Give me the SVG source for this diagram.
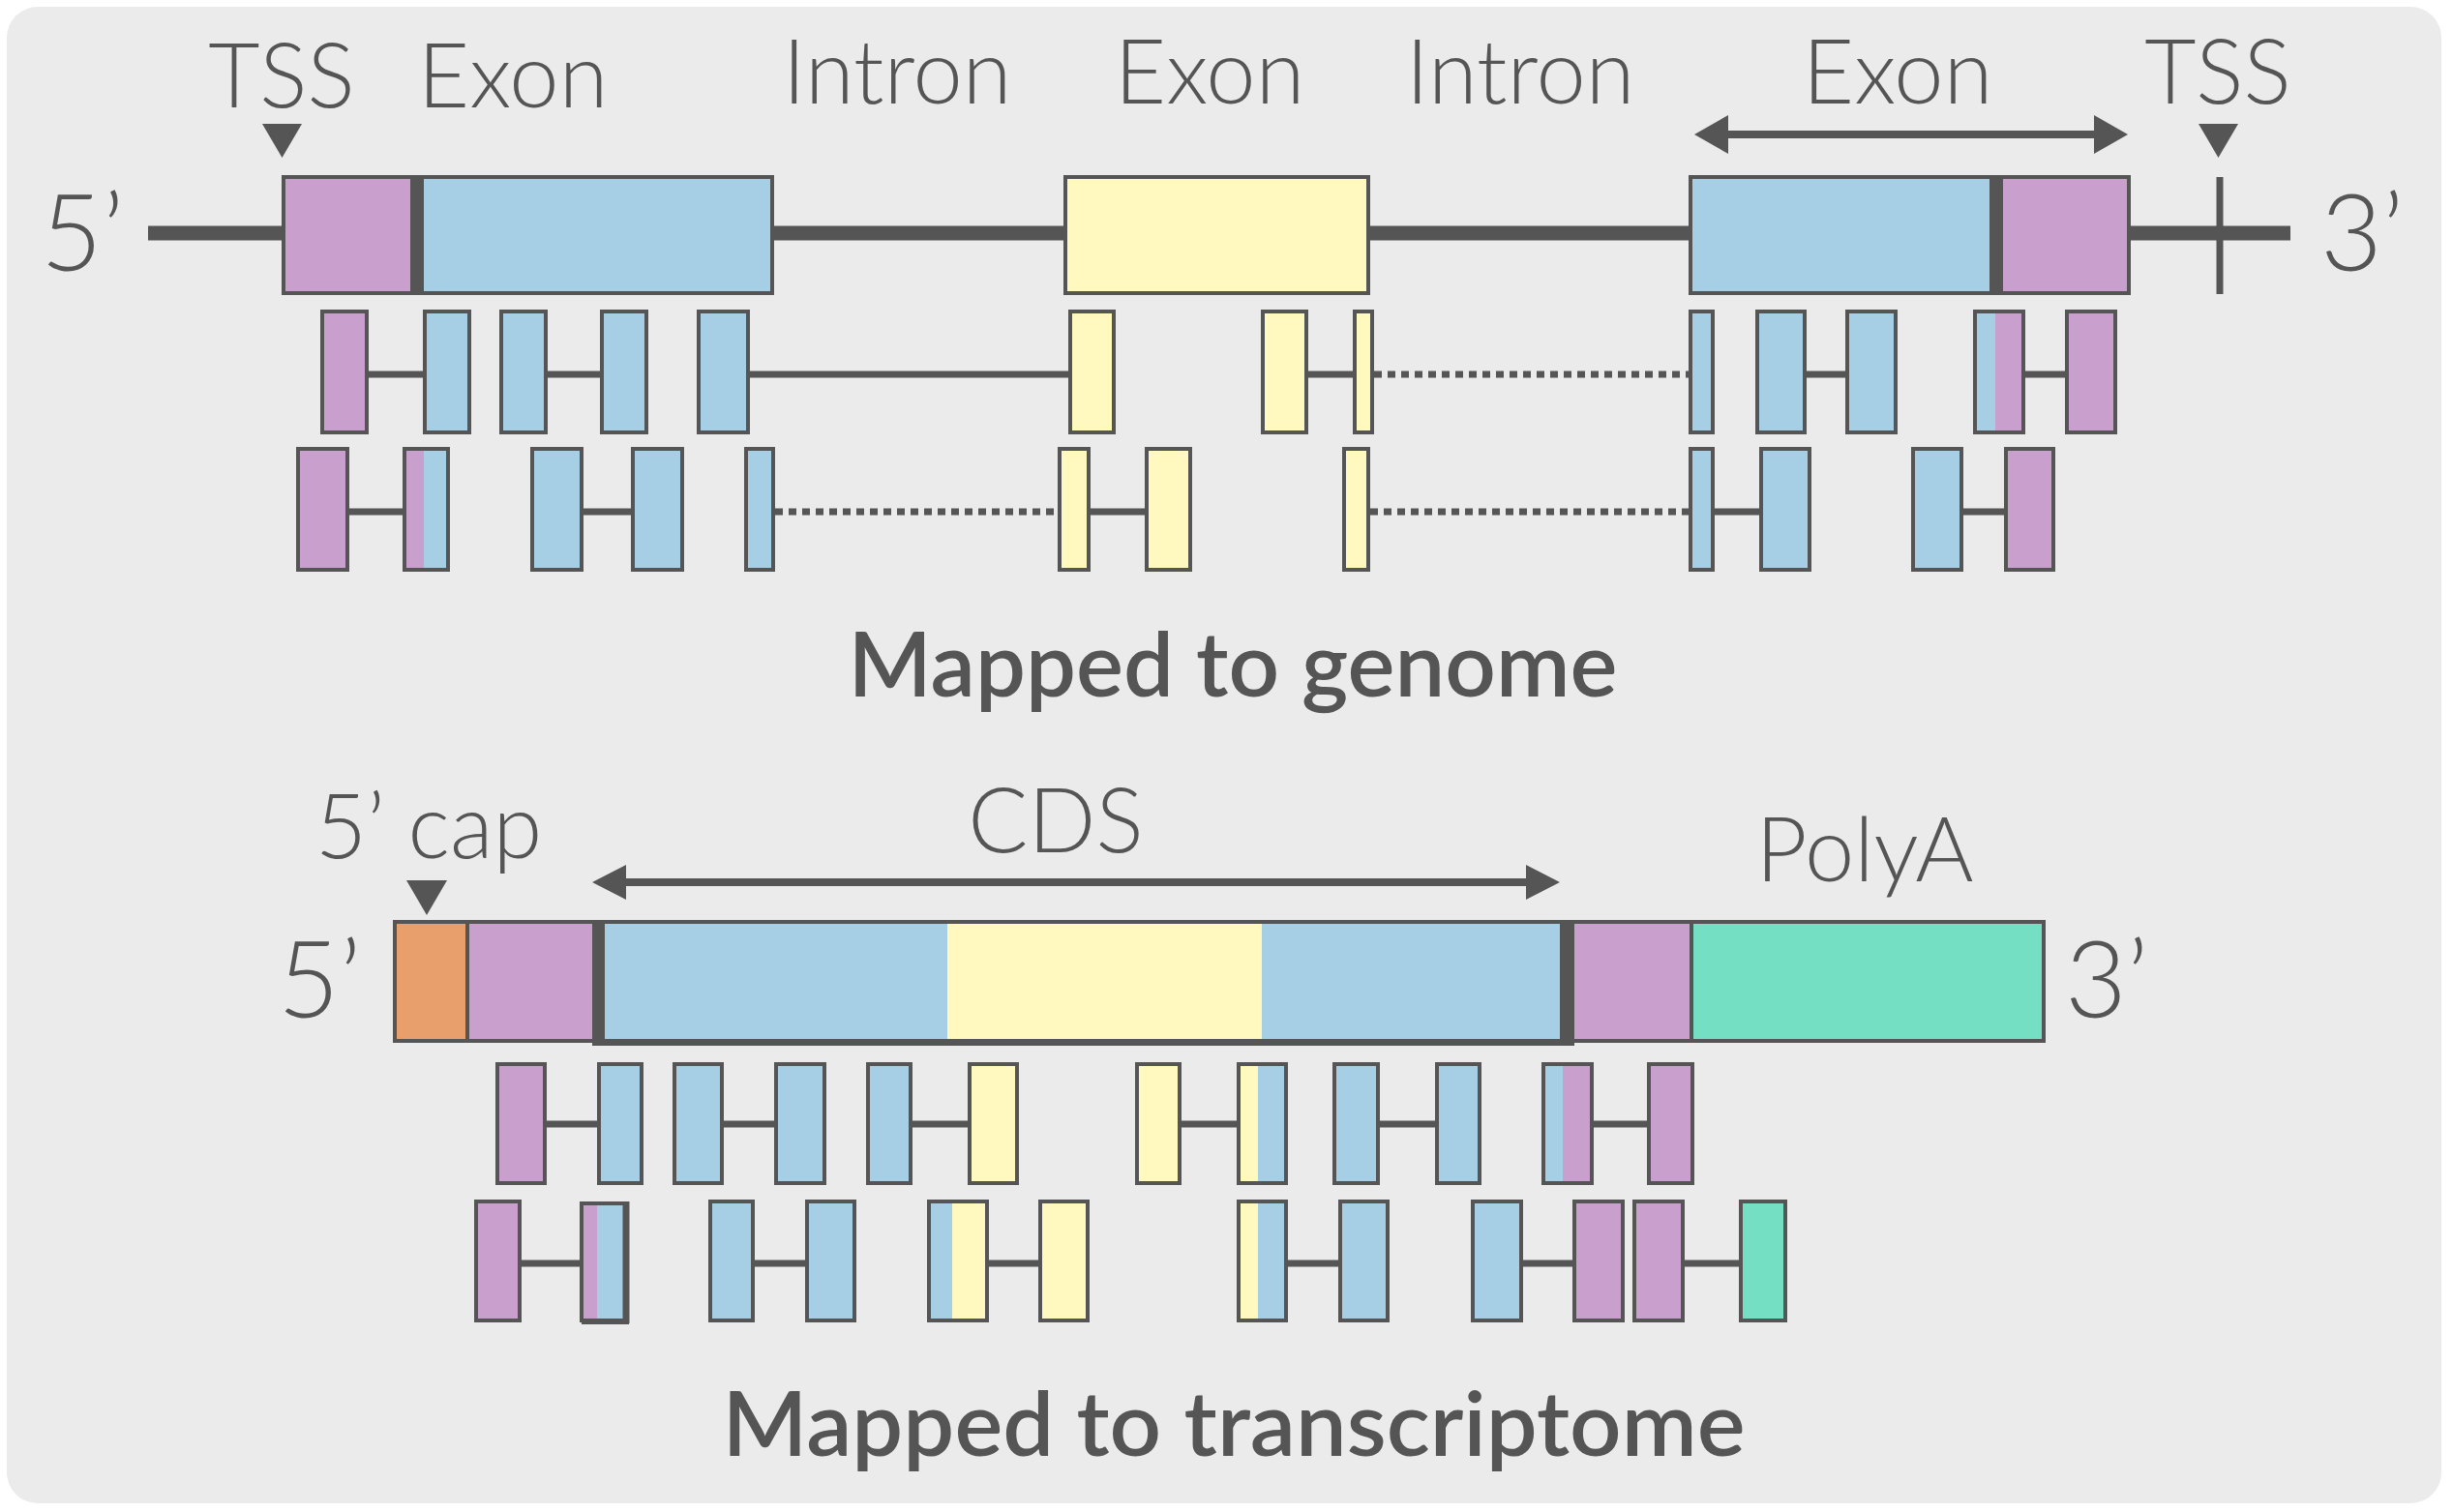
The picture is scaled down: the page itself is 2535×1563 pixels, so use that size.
<svg xmlns="http://www.w3.org/2000/svg" width="2535" height="1563" viewBox="0 0 2535 1563">
<defs>
<style>
.p{fill:#c9a0cd}.b{fill:#a6cee4}.y{fill:#fff8bf}.g{fill:#74dfc2}.or{fill:#e89f6b}
.rd{stroke:#555;stroke-width:4}
.o{fill:none;stroke:#555;stroke-width:4}
.ln{stroke:#555;stroke-width:7;fill:none}
.dt{stroke:#555;stroke-width:7;stroke-dasharray:8 6;fill:none}
.lbl{font-family:Lato,'Liberation Sans',sans-serif;font-weight:300;font-size:92px;fill:#555}
.end{font-family:Lato,'Liberation Sans',sans-serif;font-weight:300;font-size:110px;fill:#555}
.hd{font-family:Lato,'Liberation Sans',sans-serif;font-weight:600;font-size:92px;fill:#555}
.tri{fill:#555}
</style>
</defs>
<rect x="0" y="0" width="2535" height="1563" fill="#ffffff"/>
<rect x="7" y="7" width="2516" height="1547" rx="32" fill="#ebebeb"/>

<!-- ===== Genome section ===== -->
<g id="genome-labels">
<text class="end" x="42" y="280">5’</text>
<text class="lbl" x="291" y="111" text-anchor="middle">TSS</text>
<text class="lbl" x="530" y="111" text-anchor="middle">Exon</text>
<text class="lbl" x="927" y="107" text-anchor="middle">Intron</text>
<text class="lbl" x="1250" y="107" text-anchor="middle">Exon</text>
<text class="lbl" x="1571" y="107" text-anchor="middle">Intron</text>
<text class="lbl" x="1961" y="107" text-anchor="middle">Exon</text>
<text class="lbl" x="2292" y="107" text-anchor="middle">TSS</text>
<text class="end" x="2398" y="280">3’</text>
</g>

<g id="genome-line">
<line x1="153" y1="241" x2="2367" y2="241" stroke="#555" stroke-width="15"/>
<line x1="2294" y1="183" x2="2294" y2="304" stroke="#555" stroke-width="7"/>
</g>
<g id="tss-left"><polygon class="tri" points="271,128 312,128 291.5,163"/></g>
<g id="tss-right"><polygon class="tri" points="2272,128 2313,128 2292.5,163"/></g>
<g id="exon-arrow">
<line x1="1780" y1="139" x2="2170" y2="139" stroke="#555" stroke-width="8"/>
<polygon class="tri" points="1751,139 1786,119 1786,159"/>
<polygon class="tri" points="2199,139 2164,119 2164,159"/>
</g>

<g id="exon1">
<rect class="p" x="293" y="183" width="131" height="120"/>
<rect class="b" x="438" y="183" width="360" height="120"/>
<rect class="o" x="293" y="183" width="505" height="120"/>
<rect x="424" y="183" width="14" height="120" fill="#555"/>
</g>
<g id="exon2">
<rect class="y rd" x="1101" y="183" width="313" height="120"/>
</g>
<g id="exon3">
<rect class="b" x="1747" y="183" width="309" height="120"/>
<rect class="p" x="2070" y="183" width="130" height="120"/>
<rect class="o" x="1747" y="183" width="453" height="120"/>
<rect x="2056" y="183" width="14" height="120" fill="#555"/>
</g>

<g id="genome-connectors">
<line class="ln" x1="379" y1="387" x2="440" y2="387"/>
<line class="ln" x1="564" y1="387" x2="623" y2="387"/>
<line class="ln" x1="773" y1="387" x2="1107" y2="387"/>
<line class="ln" x1="1350" y1="387" x2="1401" y2="387"/>
<line class="dt" x1="1420" y1="387" x2="1747" y2="387"/>
<line class="ln" x1="1865" y1="387" x2="1910" y2="387"/>
<line class="ln" x1="2091" y1="387" x2="2137" y2="387"/>
<line class="ln" x1="359" y1="529" x2="419" y2="529"/>
<line class="ln" x1="601" y1="529" x2="655" y2="529"/>
<line class="dt" x1="801" y1="529" x2="1095" y2="529"/>
<line class="ln" x1="1125" y1="529" x2="1186" y2="529"/>
<line class="dt" x1="1416" y1="529" x2="1747" y2="529"/>
<line class="ln" x1="1770" y1="529" x2="1821" y2="529"/>
<line class="ln" x1="2027" y1="529" x2="2074" y2="529"/>
</g>

<g id="genome-row1">
<rect class="p rd" x="333" y="322" width="46" height="125"/>
<rect class="b rd" x="439" y="322" width="46" height="125"/>
<rect class="b rd" x="518" y="322" width="46" height="125"/>
<rect class="b rd" x="622" y="322" width="46" height="125"/>
<rect class="b rd" x="722" y="322" width="51" height="125"/>
<rect class="y rd" x="1106" y="322" width="45" height="125"/>
<rect class="y rd" x="1305" y="322" width="45" height="125"/>
<rect class="y rd" x="1400" y="322" width="18" height="125"/>
<rect class="b rd" x="1747" y="322" width="23" height="125"/>
<rect class="b rd" x="1816" y="322" width="49" height="125"/>
<rect class="b rd" x="1909" y="322" width="50" height="125"/>
<rect class="b" x="2041" y="322" width="21" height="125"/>
<rect class="p" x="2062" y="322" width="29" height="125"/>
<rect class="o" x="2041" y="322" width="50" height="125"/>
<rect class="p rd" x="2136" y="322" width="50" height="125"/>
</g>

<g id="genome-row2">
<rect class="p rd" x="308" y="464" width="51" height="125"/>
<rect class="p" x="418" y="464" width="20" height="125"/>
<rect class="b" x="438" y="464" width="25" height="125"/>
<rect class="o" x="418" y="464" width="45" height="125"/>
<rect class="b rd" x="550" y="464" width="51" height="125"/>
<rect class="b rd" x="654" y="464" width="51" height="125"/>
<rect class="b rd" x="771" y="464" width="28" height="125"/>
<rect class="y rd" x="1095" y="464" width="30" height="125"/>
<rect class="y rd" x="1185" y="464" width="45" height="125"/>
<rect class="y rd" x="1389" y="464" width="25" height="125"/>
<rect class="b rd" x="1747" y="464" width="23" height="125"/>
<rect class="b rd" x="1820" y="464" width="50" height="125"/>
<rect class="b rd" x="1977" y="464" width="50" height="125"/>
<rect class="p rd" x="2073" y="464" width="49" height="125"/>
</g>

<g id="genome-title">
<text class="hd" x="1274" y="720" text-anchor="middle" textLength="795" lengthAdjust="spacingAndGlyphs">Mapped to genome</text>
</g>

<!-- ===== Transcriptome section ===== -->
<g id="tx-labels">
<text class="lbl" x="443" y="887" text-anchor="middle">5’ cap</text>
<text class="lbl" x="1091" y="881" text-anchor="middle">CDS</text>
<text class="lbl" x="1927" y="911" text-anchor="middle">PolyA</text>
<text class="end" x="287" y="1052">5’</text>
<text class="end" x="2134" y="1052">3’</text>
</g>
<g id="cap-marker"><polygon class="tri" points="420,910 462,910 441,946"/></g>
<g id="cds-arrow">
<line x1="640" y1="912" x2="1585" y2="912" stroke="#555" stroke-width="8"/>
<polygon class="tri" points="612,912 647,894 647,930"/>
<polygon class="tri" points="1612,912 1577,894 1577,930"/>
</g>

<g id="transcript">
<rect class="or" x="408" y="953" width="75" height="123"/>
<rect class="p" x="483" y="953" width="129" height="123"/>
<rect class="b" x="625" y="955" width="354" height="121"/>
<rect class="y" x="979" y="955" width="325" height="121"/>
<rect class="b" x="1304" y="955" width="308" height="121"/>
<rect class="p" x="1627" y="953" width="121" height="123"/>
<rect class="g" x="1748" y="953" width="364" height="123"/>
<rect class="o" x="408" y="953" width="1704" height="123"/>
<line x1="483" y1="953" x2="483" y2="1076" stroke="#555" stroke-width="4"/>
<line x1="1748" y1="953" x2="1748" y2="1076" stroke="#555" stroke-width="4"/>
<line x1="612" y1="1078" x2="1627" y2="1078" stroke="#555" stroke-width="6"/>
<rect x="612" y="953" width="13" height="126" fill="#555"/>
<rect x="1612" y="953" width="15" height="126" fill="#555"/>
</g>

<g id="tx-connectors">
<line class="ln" x1="563" y1="1162" x2="620" y2="1162"/>
<line class="ln" x1="746" y1="1162" x2="803" y2="1162"/>
<line class="ln" x1="941" y1="1162" x2="1003" y2="1162"/>
<line class="ln" x1="1219" y1="1162" x2="1281" y2="1162"/>
<line class="ln" x1="1424" y1="1162" x2="1486" y2="1162"/>
<line class="ln" x1="1645" y1="1162" x2="1705" y2="1162"/>
<line class="ln" x1="537" y1="1306" x2="602" y2="1306"/>
<line class="ln" x1="778" y1="1306" x2="835" y2="1306"/>
<line class="ln" x1="1020" y1="1306" x2="1076" y2="1306"/>
<line class="ln" x1="1329" y1="1306" x2="1386" y2="1306"/>
<line class="ln" x1="1572" y1="1306" x2="1634" y2="1306"/>
<line class="ln" x1="1739" y1="1306" x2="1800" y2="1306"/>
</g>

<g id="tx-row1">
<rect class="p rd" x="514" y="1100" width="49" height="123"/>
<rect class="b rd" x="619" y="1100" width="44" height="123"/>
<rect class="b rd" x="697" y="1100" width="49" height="123"/>
<rect class="b rd" x="802" y="1100" width="50" height="123"/>
<rect class="b rd" x="897" y="1100" width="44" height="123"/>
<rect class="y rd" x="1002" y="1100" width="49" height="123"/>
<rect class="y rd" x="1175" y="1100" width="44" height="123"/>
<rect class="y" x="1280" y="1100" width="20" height="123"/>
<rect class="b" x="1300" y="1100" width="29" height="123"/>
<rect class="o" x="1280" y="1100" width="49" height="123"/>
<rect class="b rd" x="1379" y="1100" width="45" height="123"/>
<rect class="b rd" x="1485" y="1100" width="44" height="123"/>
<rect class="b" x="1595" y="1100" width="20" height="123"/>
<rect class="p" x="1615" y="1100" width="30" height="123"/>
<rect class="o" x="1595" y="1100" width="50" height="123"/>
<rect class="p rd" x="1704" y="1100" width="45" height="123"/>
</g>

<g id="tx-row2">
<rect class="p rd" x="492" y="1242" width="45" height="123"/>
<rect class="p" x="601" y="1244" width="16" height="121"/>
<rect class="b" x="617" y="1244" width="30" height="121"/>
<rect class="o" x="601" y="1244" width="46" height="121"/>
<line x1="647" y1="1242" x2="647" y2="1368" stroke="#555" stroke-width="7"/>
<line x1="601" y1="1366" x2="650" y2="1366" stroke="#555" stroke-width="6"/>
<rect class="b rd" x="734" y="1242" width="44" height="123"/>
<rect class="b rd" x="834" y="1242" width="49" height="123"/>
<rect class="b" x="960" y="1242" width="24" height="123"/>
<rect class="y" x="984" y="1242" width="36" height="123"/>
<rect class="o" x="960" y="1242" width="60" height="123"/>
<rect class="y rd" x="1075" y="1242" width="49" height="123"/>
<rect class="y" x="1280" y="1242" width="20" height="123"/>
<rect class="b" x="1300" y="1242" width="29" height="123"/>
<rect class="o" x="1280" y="1242" width="49" height="123"/>
<rect class="b rd" x="1385" y="1242" width="49" height="123"/>
<rect class="b rd" x="1522" y="1242" width="50" height="123"/>
<rect class="p rd" x="1627" y="1242" width="50" height="123"/>
<rect class="p rd" x="1689" y="1242" width="50" height="123"/>
<rect class="g rd" x="1799" y="1242" width="46" height="123"/>
</g>

<g id="tx-title">
<text class="hd" x="1275" y="1505" text-anchor="middle" textLength="1057" lengthAdjust="spacingAndGlyphs">Mapped to transcriptome</text>
</g>
</svg>
